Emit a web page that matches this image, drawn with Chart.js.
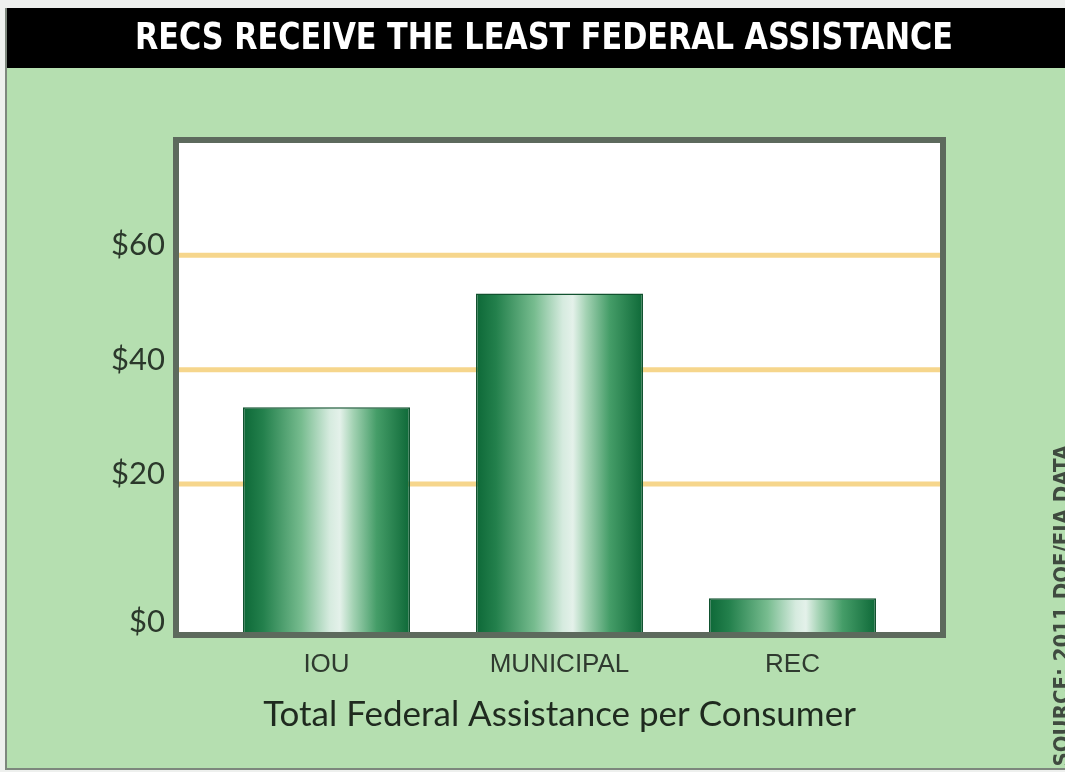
<!DOCTYPE html>
<html>
<head>
<meta charset="utf-8">
<title>RECs Receive the Least Federal Assistance</title>
<script src="https://cdn.jsdelivr.net/npm/chart.js@4.4.1/dist/chart.umd.min.js"></script>
<style>
  html, body { margin: 0; padding: 0; background: #eef0ee; }
  #wrap { position: relative; width: 1065px; height: 772px; }
</style>
</head>
<body>
<div id="wrap"><canvas id="myChart"></canvas></div>
<script>
const categories = ["IOU", "MUNICIPAL", "REC"];
const assistance = [33.4, 53.3, 0];

// the drawn axis starts a little below $0's gridline spacing
const baseline = -5.9;
const tickValues = [baseline, 20, 40, 60];
const tickLabels = ["$0", "$20", "$40", "$60"];
const gridValues = [20, 40, 60];

const titleText = "RECS RECEIVE THE LEAST FEDERAL ASSISTANCE";
const sourceText = "SOURCE: 2011 DOE/EIA DATA";

// horizontal green -> pale -> green shading for each bar
function barGradient(c) {
  const chart = c.chart;
  const x = chart.scales.x;
  if (!x || !chart.chartArea) return "#2e8b57";
  const w = (x.width / categories.length) * 0.717;
  const cx = x.getPixelForValue(c.dataIndex);
  const g = chart.ctx.createLinearGradient(cx - w / 2, 0, cx + w / 2, 0);
  g.addColorStop(0, "#0d6837");
  g.addColorStop(0.12, "#23804c");
  g.addColorStop(0.35, "#77bc8f");
  g.addColorStop(0.52, "#d6ebdf");
  g.addColorStop(0.58, "#e4f1ea");
  g.addColorStop(0.66, "#a3d2b3");
  g.addColorStop(0.8, "#459d68");
  g.addColorStop(1, "#0e6938");
  return g;
}

// squeeze a line of text into a given width (narrow display type)
function fitText(ctx, text, cx, cy, maxW) {
  const w = ctx.measureText(text).width;
  const k = Math.min(1, maxW / w);
  ctx.save();
  ctx.translate(cx, cy);
  ctx.scale(k, 1);
  ctx.fillText(text, 0, 0);
  ctx.restore();
}

const framePlugin = {
  id: "frame",
  beforeDraw(chart) {
    const { ctx, width, height } = chart;
    ctx.save();
    // page + green panel
    ctx.fillStyle = "#eef0ee";
    ctx.fillRect(0, 0, width, height);
    ctx.fillStyle = "#b5dfb0";
    ctx.fillRect(7, 8, width - 7, height - 12);
    ctx.strokeStyle = "#7d877d";
    ctx.lineWidth = 2;
    ctx.beginPath();
    ctx.moveTo(6, 8);
    ctx.lineTo(6, height - 3);
    ctx.lineTo(width, height - 3);
    ctx.stroke();

    // black title bar
    ctx.fillStyle = "#000";
    ctx.fillRect(7, 8, width - 7, 60);
    ctx.fillStyle = "#fff";
    ctx.font = "bold 38px 'DejaVu Sans Condensed', 'DejaVu Sans', sans-serif";
    ctx.textAlign = "center";
    ctx.textBaseline = "middle";
    fitText(ctx, titleText, 544, 39, 818);

    // rotated source note on the right edge
    ctx.translate(1052, 445);
    ctx.rotate(-Math.PI / 2);
    ctx.fillStyle = "#3f4a3f";
    ctx.font = "bold 22px 'DejaVu Sans Condensed', sans-serif";
    ctx.textAlign = "right";
    ctx.textBaseline = "top";
    fitText(ctx, sourceText, 0, 0, 330);
    ctx.restore();
  },
  beforeDatasetsDraw(chart) {
    const { ctx, chartArea: a, scales } = chart;
    const left = a.left - 34, right = a.right + 34;
    const top = a.top - 1, bottom = a.bottom + 3;
    ctx.save();
    ctx.fillStyle = "#fff";
    ctx.fillRect(left, top, right - left, bottom - top);
    // yellow gridlines across the whole white box
    ctx.strokeStyle = "#f6d68c";
    ctx.lineWidth = 5;
    gridValues.forEach((v) => {
      const y = scales.y.getPixelForValue(v);
      ctx.beginPath();
      ctx.moveTo(left, y);
      ctx.lineTo(right, y);
      ctx.stroke();
    });
    ctx.restore();
  },
  afterDatasetsDraw(chart) {
    const { ctx, chartArea: a } = chart;
    const left = a.left - 34, right = a.right + 34;
    const top = a.top - 1, bottom = a.bottom + 3;
    ctx.save();
    ctx.strokeStyle = "#5d6a5d";
    ctx.lineWidth = 6;
    ctx.strokeRect(left, top, right - left, bottom - top);
    ctx.restore();
  },
};

const ctx = document.getElementById("myChart");
new Chart(ctx, {
  type: "bar",
  data: {
    labels: categories,
    datasets: [
      {
        label: "Federal assistance per consumer",
        data: assistance,
        base: baseline,
        backgroundColor: barGradient,
        borderColor: "#11522f",
        borderWidth: 1.5,
        barPercentage: 0.717,
        categoryPercentage: 1,
      },
    ],
  },
  options: {
    responsive: true,
    maintainAspectRatio: false,
    animation: false,
    layout: { padding: { top: 141, right: 156, left: 0, bottom: 0 } },
    plugins: {
      legend: { display: false },
      tooltip: { enabled: false },
      title: { display: false },
    },
    scales: {
      x: {
        grid: { display: false, drawTicks: false },
        border: { display: false },
        ticks: {
          padding: 17,
          color: "#2f3a2f",
          font: { family: "'Liberation Sans', sans-serif", size: 26 },
        },
        title: {
          display: true,
          text: "Total Federal Assistance per Consumer",
          color: "#1f2a1f",
          font: { family: "Lato, sans-serif", size: 35 },
          padding: { top: 0, bottom: 36 },
        },
        afterFit: (s) => { s.height = 140; },
      },
      y: {
        min: baseline,
        max: 80,
        grid: { display: false, drawTicks: false },
        border: { display: false },
        afterBuildTicks: (s) => {
          s.ticks = tickValues.map((v) => ({ value: v }));
        },
        ticks: {
          padding: 45,
          labelOffset: -10,
          color: "#2b382b",
          font: { family: "Lato, sans-serif", size: 31 },
          callback: (v) => tickLabels[tickValues.indexOf(v)],
        },
        afterFit: (s) => { s.width = 210; },
      },
    },
  },
  plugins: [framePlugin],
});
</script>
</body>
</html>
